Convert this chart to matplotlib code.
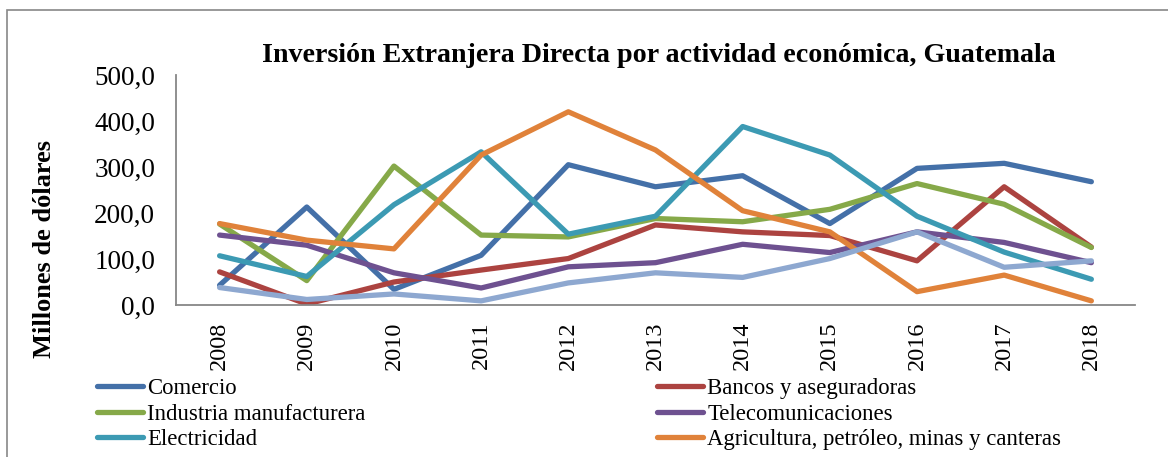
import matplotlib
matplotlib.use("Agg")
import matplotlib.pyplot as plt
from matplotlib.ticker import FuncFormatter, FixedLocator
from matplotlib.patches import Rectangle

plt.rcParams['font.family'] = ['Liberation Serif', 'DejaVu Serif']

years = ["2008", "2009", "2010", "2011", "2012", "2013", "2014", "2015", "2016", "2017", "2018"]

comercio = [43, 213, 34, 108, 305, 257, 281, 177, 297, 308, 268]
bancos = [72, 2, 50, 76, 101, 174, 159, 151, 96, 257, 126]
industria = [176, 53, 302, 152, 148, 188, 181, 208, 264, 219, 125]
telecom = [152, 130, 70, 37, 83, 92, 132, 114, 159, 136, 92]
electricidad = [107, 62, 218, 333, 154, 193, 388, 326, 193, 115, 56]
agricultura = [177, 141, 122, 326, 420, 337, 205, 159, 29, 65, 9]
otros = [38, 12, 24, 9, 48, 70, 60, 101, 159, 82, 96]

series = [
    ("Comercio", comercio, "#4470A8"),
    ("Bancos y aseguradoras", bancos, "#AC4340"),
    ("Industria manufacturera", industria, "#86A949"),
    ("Telecomunicaciones", telecom, "#6E5190"),
    ("Electricidad", electricidad, "#3C9AB3"),
    ("Agricultura, petróleo, minas y canteras", agricultura, "#E0823A"),
    ("Otros", otros, "#8EA8D0"),
]

fig = plt.figure(figsize=(11.68, 4.57), dpi=100)
ax = fig.add_axes([0.1507, 0.3326, 0.821, 0.5033])

x = list(range(len(years)))
handles = {}
for name, vals, col in series:
    (ln,) = ax.plot(x, vals, color=col, lw=3.8, solid_capstyle='round',
                    solid_joinstyle='round', label=name)
    handles[name] = ln

ax.set_xlim(-0.5, len(years) - 0.5)
ax.set_ylim(0, 500)
ax.yaxis.set_major_locator(FixedLocator([0, 100, 200, 300, 400, 500]))
ax.yaxis.set_major_formatter(FuncFormatter(lambda v, p: f"{v:.1f}".replace(".", ",")))
ax.set_xticks(x)
ax.set_xticklabels(years, rotation=90, fontsize=17.5)
ax.tick_params(axis='x', length=0, pad=12)
ax.tick_params(axis='y', length=0, pad=15, labelsize=19.5)

for s in ("top", "right"):
    ax.spines[s].set_visible(False)
for s in ("left", "bottom"):
    ax.spines[s].set_color("#878787")
    ax.spines[s].set_linewidth(1.3)

fig.text(0.5642, 1 - 55 / 457, "Inversión Extranjera Directa por actividad económica, Guatemala",
         ha='center', va='center', fontsize=20.2, fontweight='bold')
fig.text(45 / 1168, 1 - 249 / 457, "Millones de dólares", rotation=90,
         ha='center', va='center', fontsize=19, fontweight='bold')

# legend laid out column by column so it reads row by row
order = ["Comercio", "Industria manufacturera", "Electricidad",
         "Bancos y aseguradoras", "Telecomunicaciones",
         "Agricultura, petróleo, minas y canteras"]
fig.legend([handles[n] for n in order], order, loc='upper left',
           bbox_to_anchor=(97 / 1168, 1 - 378 / 457), ncol=2, frameon=False,
           fontsize=16.4, handlelength=2.0, handletextpad=0.2,
           columnspacing=12.8, labelspacing=0.2, borderpad=0, borderaxespad=0)

# outer chart frame
fig.patches.append(Rectangle((7 / 1168, -0.2), 1.2, 0.2 + (1 - 10 / 457),
                             transform=fig.transFigure, fill=False,
                             edgecolor="#888888", lw=1.2, zorder=0))

fig.savefig("out.png", dpi=100)
